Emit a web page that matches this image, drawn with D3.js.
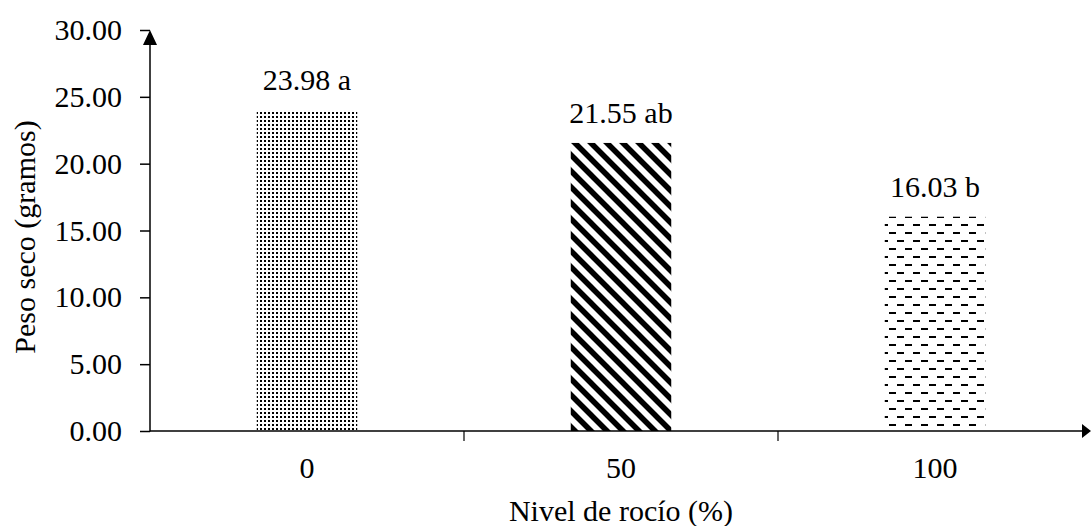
<!DOCTYPE html>
<html>
<head>
<meta charset="utf-8">
<script src="https://cdn.jsdelivr.net/npm/d3@7"></script>
<style>
html,body{margin:0;padding:0;background:#fff;}
svg{display:block;}
svg text{font-family:"Times New Roman","Liberation Serif",Tinos,serif !important;fill:#000;}
</style>
</head>
<body>
<svg id="chart" width="1091" height="526"></svg>
<script>
const categories = ["0", "50", "100"];
const values = [23.98, 21.55, 16.03];
const letters = ["a", "ab", "b"];
const yTicks = [0, 5, 10, 15, 20, 25, 30];
const patterns = ["dots", "diag", "dash"];
const xTitle = "Nivel de rocío (%)";
const yTitle = "Peso seco (gramos)";

(function(){
const svg = d3.select("#chart");
const W = 1091, H = 526;
const mLeft = 150, mRight = 1092, mTop = 30, mBottom = 431;
const fs = 30;
const ff = "'Times New Roman', 'Liberation Serif', Tinos, serif";

const defs = svg.append("defs");
// dotted pattern
const pd = defs.append("pattern").attr("id","dots").attr("patternUnits","userSpaceOnUse")
  .attr("width",8).attr("height",8);
[[0,0],[4,0],[0,4],[4,4]].forEach(p => pd.append("rect").attr("x",p[0]).attr("y",p[1])
  .attr("width",2).attr("height",2).attr("fill","#000"));
// diagonal stripes
const pg = defs.append("pattern").attr("id","diag").attr("patternUnits","userSpaceOnUse")
  .attr("width",16).attr("height",16);
pg.append("path").attr("d","M-4,-4 L20,20 M-20,-4 L4,20 M12,-4 L36,20")
  .attr("stroke","#000").attr("stroke-width",5.6);
// dashes
const ph = defs.append("pattern").attr("id","dash").attr("patternUnits","userSpaceOnUse")
  .attr("width",16).attr("height",16);
ph.append("rect").attr("x",1).attr("y",0).attr("width",7).attr("height",2).attr("fill","#000");
ph.append("rect").attr("x",9).attr("y",8).attr("width",7).attr("height",2).attr("fill","#000");

const x = d3.scaleBand().domain(categories).range([mLeft, mRight]).paddingInner(0).paddingOuter(0);
const y = d3.scaleLinear().domain([0, 30]).range([mBottom, mTop]);

const barW = x.bandwidth() * 0.32;

// bars
svg.append("g").selectAll("rect").data(categories).join("rect")
  .attr("x", d => x(d) + x.bandwidth()/2 - barW/2)
  .attr("y", (d,i) => y(values[i]))
  .attr("width", barW)
  .attr("height", (d,i) => y(0) - y(values[i]))
  .attr("fill", (d,i) => "url(#" + patterns[i] + ")");

// value labels
svg.append("g").selectAll("text").data(categories).join("text")
  .attr("x", d => x(d) + x.bandwidth()/2)
  .attr("y", (d,i) => y(values[i]) - 20)
  .attr("text-anchor","middle")
  .attr("font-family", ff)
  .attr("font-size", fs)
  .text((d,i) => values[i].toFixed(2) + " " + letters[i]);

// y axis
const yAxis = d3.axisLeft(y).tickValues(yTicks).tickFormat(d => d3.format(".2f")(d))
  .tickSize(10).tickPadding(18);
const gy = svg.append("g").attr("transform", `translate(${mLeft},0)`).call(yAxis)
  .attr("font-family", ff);
gy.select(".domain").remove();
gy.selectAll(".tick line").attr("stroke","#000").attr("stroke-width",1.5);
gy.selectAll(".tick text").attr("font-size", fs).attr("font-family", ff).attr("dy","0.32em");
svg.append("line").attr("x1",mLeft).attr("x2",mLeft).attr("y1",mBottom+0.5).attr("y2",mTop+8)
  .attr("stroke","#000").attr("stroke-width",1.5);
svg.append("path").attr("d",`M${mLeft},${mTop} L${mLeft-7},${mTop+15} L${mLeft+7},${mTop+15} Z`).attr("fill","#000");

// x axis
svg.append("line").attr("x1",mLeft).attr("x2",mRight-8).attr("y1",mBottom).attr("y2",mBottom)
  .attr("stroke","#000").attr("stroke-width",1.5);
svg.append("path").attr("d",`M${W},${mBottom} L${W-9},${mBottom-7} L${W-9},${mBottom+7} Z`).attr("fill","#000");
// category separator ticks
const sepTicks = categories.slice(1).map(c => x(c));
svg.append("g").selectAll("line").data(sepTicks).join("line")
  .attr("x1", d => d).attr("x2", d => d).attr("y1", mBottom).attr("y2", mBottom + 10)
  .attr("stroke","#000").attr("stroke-width",1.2);
// category labels
svg.append("g").selectAll("text").data(categories).join("text")
  .attr("x", d => x(d) + x.bandwidth()/2)
  .attr("y", 478)
  .attr("text-anchor","middle")
  .attr("font-family", ff)
  .attr("font-size", fs)
  .text(d => d);

// titles
svg.append("text").attr("x", (mLeft + mRight)/2).attr("y", 521).attr("text-anchor","middle")
  .attr("font-family", ff).attr("font-size", fs).text(xTitle);
svg.append("text").attr("transform", "translate(35,237) rotate(-90)").attr("text-anchor","middle")
  .attr("font-family", ff).attr("font-size", fs).text(yTitle);
})();
</script>
</body>
</html>
